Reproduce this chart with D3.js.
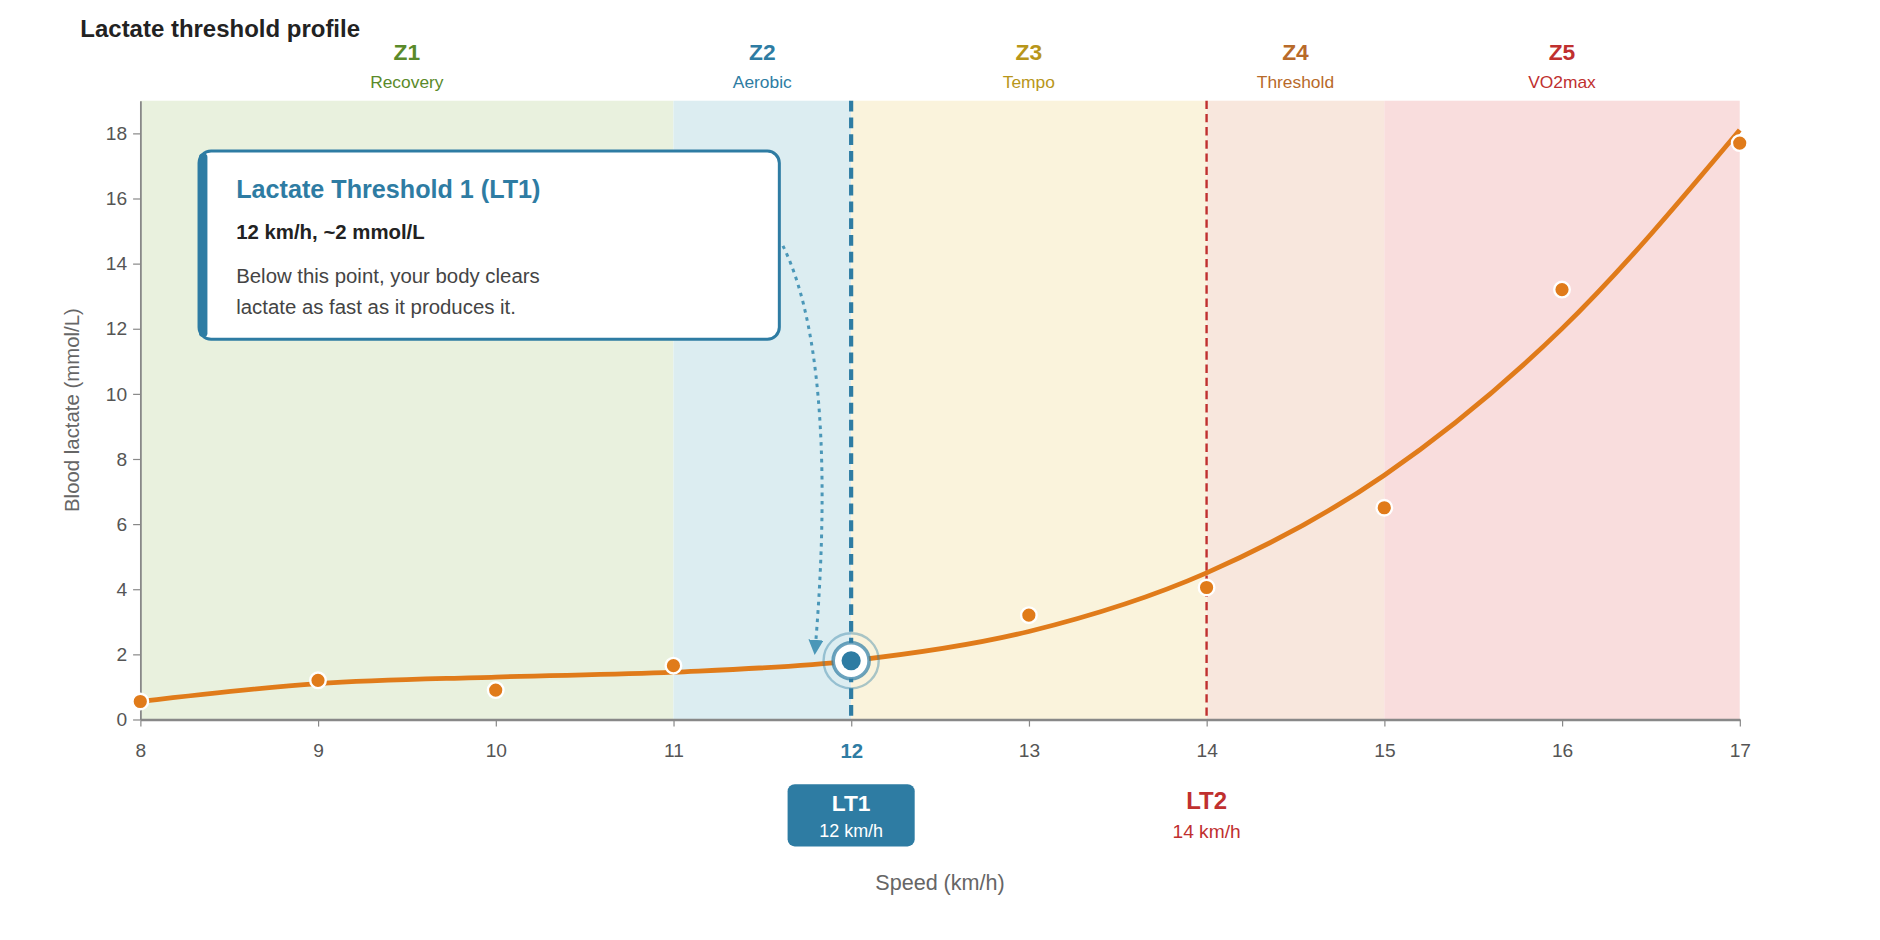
<!DOCTYPE html><html><head><meta charset="utf-8"><script src="https://cdn.jsdelivr.net/npm/d3@7"></script>
<style>body{margin:0;background:#fff}svg{display:block;font-family:"Liberation Sans",Arial,sans-serif}</style></head><body>
<svg id="c" width="1880" height="940" viewBox="0 0 1568 784"></svg>
<script>
const speeds=[8,9,10,11,12,13,14,15,16,17];
const measured=[0.55,1.2,0.9,1.65,1.8,3.2,4.05,6.5,13.2,17.7];
const fitted=[0.55,1.1,1.3,1.45,1.8,2.7,4.5,7.5,12,18.1];
const zoneNames=["Z1","Z2","Z3","Z4","Z5"];
const zoneLabels=["Recovery","Aerobic","Tempo","Threshold","VO2max"];
const zoneStart=[8,11,12,14,15];
const zoneEnd=[11,12,14,15,17];
const zoneFill=["#e9f1de","#dcedf1","#faf3dc","#f8e7dd","#f9dddd"];
const zoneColor=["#5a8a2a","#2e7ca3","#b8961a","#b86a2a","#c0302f"];
const yTicks=[0,2,4,6,8,10,12,14,16,18];
const svg=d3.select("#c");
const x=d3.scaleLinear().domain([8,17]).range([117,1451]);
const y=d3.scaleLinear().domain([0,19]).range([600,84]);
const blue="#2e7ca3",red="#c0302f",orange="#e07b1a";
zoneStart.forEach((s,i)=>{
 svg.append("rect").attr("x",x(s)).attr("y",y(19)).attr("width",x(zoneEnd[i])-x(s)).attr("height",y(0)-y(19)).attr("fill",zoneFill[i]);
 const cx=x((s+zoneEnd[i])/2);
 svg.append("text").attr("x",cx).attr("y",50).attr("text-anchor","middle").attr("font-size",19).attr("font-weight","bold").attr("fill",zoneColor[i]).text(zoneNames[i]);
 svg.append("text").attr("x",cx).attr("y",73).attr("text-anchor","middle").attr("font-size",14.5).attr("fill",zoneColor[i]).text(zoneLabels[i]);
});
svg.append("text").attr("x",67).attr("y",31).attr("font-size",20).attr("font-weight","bold").attr("fill","#222").text("Lactate threshold profile");
const ya=svg.append("g").attr("transform","translate(117,0)").call(d3.axisLeft(y).tickValues(yTicks).tickSize(6).tickSizeOuter(0));
ya.select(".domain").attr("stroke","#888").attr("stroke-width",1.5);
ya.selectAll("line").attr("stroke","#888");
ya.selectAll("text").attr("font-size",16).attr("fill","#555").attr("dx",-2);
const xa=svg.append("g").attr("transform","translate(0,600)").call(d3.axisBottom(x).tickValues(speeds).tickSize(6).tickSizeOuter(0).tickPadding(14));
xa.select(".domain").attr("stroke","#888").attr("stroke-width",2);
xa.selectAll("line").attr("stroke","#888");
xa.selectAll("text").attr("fill",d=>d===12?blue:"#555").attr("font-weight",d=>d===12?"bold":"normal").attr("font-size",d=>d===12?17:16);
svg.append("text").attr("transform","translate(66,342) rotate(-90)").attr("text-anchor","middle").attr("font-size",17).attr("fill","#666").text("Blood lactate (mmol/L)");
svg.append("text").attr("x",784).attr("y",742).attr("text-anchor","middle").attr("font-size",18).attr("fill","#666").text("Speed (km/h)");
svg.append("line").attr("x1",x(12)).attr("x2",x(12)).attr("y1",y(19)).attr("y2",y(0)).attr("stroke",blue).attr("stroke-width",3.5).attr("stroke-dasharray","9,5");
svg.append("line").attr("x1",x(14)).attr("x2",x(14)).attr("y1",y(19)).attr("y2",y(0)).attr("stroke",red).attr("stroke-width",2).attr("stroke-dasharray","7,4");
svg.append("path").datum(speeds.map((s,i)=>[s,fitted[i]])).attr("d",d3.line().x(d=>x(d[0])).y(d=>y(d[1])).curve(d3.curveMonotoneX)).attr("fill","none").attr("stroke",orange).attr("stroke-width",4);
speeds.forEach((s,i)=>{ if(s===12) return;
 svg.append("circle").attr("cx",x(s)).attr("cy",y(measured[i])).attr("r",6.5).attr("fill",orange).attr("stroke","#fff").attr("stroke-width",2);});
const lx=x(12),ly=y(1.8);
svg.append("circle").attr("cx",lx).attr("cy",ly).attr("r",23).attr("fill","none").attr("stroke",blue).attr("stroke-opacity",0.4).attr("stroke-width",2);
svg.append("circle").attr("cx",lx).attr("cy",ly).attr("r",15).attr("fill","#fff").attr("stroke",blue).attr("stroke-opacity",0.7).attr("stroke-width",3);
svg.append("circle").attr("cx",lx).attr("cy",ly).attr("r",8).attr("fill",blue);
svg.append("defs").append("marker").attr("id","ah").attr("viewBox","0 0 10 10").attr("refX",5).attr("refY",5).attr("markerWidth",5).attr("markerHeight",5).attr("orient","auto").append("path").attr("d","M0,0L10,5L0,10z").attr("fill","#4a97b8");
svg.append("path").attr("d","M653,205 C690,280 690,420 680,540").attr("fill","none").attr("stroke","#4a97b8").attr("stroke-width",2.5).attr("stroke-dasharray","3,4").attr("marker-end","url(#ah)");
svg.append("rect").attr("x",166).attr("y",126).attr("width",484).attr("height",157).attr("rx",10).attr("fill","#fff").attr("stroke",blue).attr("stroke-width",2.5);
svg.append("rect").attr("x",166).attr("y",128).attr("width",7).attr("height",153).attr("rx",3).attr("fill",blue);
svg.append("text").attr("x",197).attr("y",165).attr("font-size",21).attr("font-weight","bold").attr("fill",blue).text("Lactate Threshold 1 (LT1)");
svg.append("text").attr("x",197).attr("y",199).attr("font-size",17).attr("font-weight","bold").attr("fill","#222").text("12 km/h, ~2 mmol/L");
svg.append("text").attr("x",197).attr("y",236).attr("font-size",17).attr("fill","#444").text("Below this point, your body clears");
svg.append("text").attr("x",197).attr("y",262).attr("font-size",17).attr("fill","#444").text("lactate as fast as it produces it.");
svg.append("rect").attr("x",lx-53).attr("y",654).attr("width",106).attr("height",52).attr("rx",6).attr("fill",blue);
svg.append("text").attr("x",lx).attr("y",676).attr("text-anchor","middle").attr("font-size",19).attr("font-weight","bold").attr("fill","#fff").text("LT1");
svg.append("text").attr("x",lx).attr("y",698).attr("text-anchor","middle").attr("font-size",15).attr("fill","#fff").text("12 km/h");
svg.append("text").attr("x",x(14)).attr("y",675).attr("text-anchor","middle").attr("font-size",20).attr("font-weight","bold").attr("fill",red).text("LT2");
svg.append("text").attr("x",x(14)).attr("y",699).attr("text-anchor","middle").attr("font-size",16).attr("fill",red).text("14 km/h");
</script></body></html>
